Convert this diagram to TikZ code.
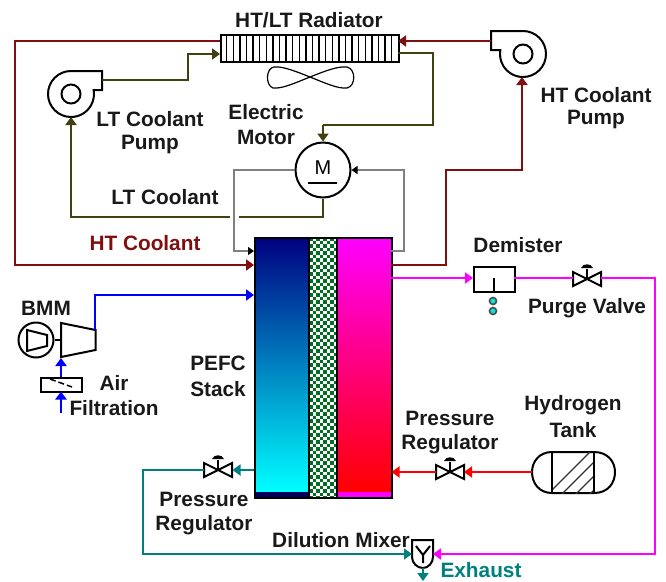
\documentclass[tikz,border=0pt]{standalone}
\usepackage{fontspec}
\setmainfont{Liberation Sans}
\usetikzlibrary{arrows.meta}
\definecolor{htc}{RGB}{128,16,16}
\definecolor{ltc}{RGB}{64,64,16}
\definecolor{tealc}{RGB}{0,128,128}
\definecolor{greenc}{RGB}{0,110,30}
\definecolor{magc}{RGB}{255,0,255}
\definecolor{cyanc}{RGB}{0,255,255}
\definecolor{redc}{RGB}{255,0,0}
\definecolor{bluec}{RGB}{0,0,255}
\definecolor{navyc}{RGB}{0,0,128}
\tikzset{
  x=1pt,y=-1pt,
  lbl/.style={font=\fontsize{20.8}{23}\selectfont\bfseries,inner sep=0pt,text=black!90},
  pipe/.style={line width=2.2pt,-{Triangle[length=8pt,width=11pt]}},
  pipeplain/.style={line width=2.2pt},
  sym/.style={draw=black,line width=2pt},
  thinpipe/.style={draw=black!50,line width=1.2pt,-{Triangle[length=6pt,width=8pt,fill=black,color=black]}},
  box/.style={draw=black,line width=2pt,rectangle,inner sep=0pt,fill=none},
  valve/.pic={
    \draw[sym,fill=white] (-14,-7) -- (14,7) -- (14,-7) -- (-14,7) -- cycle;
    \draw[sym] (0,0) -- (0,-10);
    \fill[black] (-6,-11) .. controls (-4,-16) and (4,-16) .. (6,-11) -- cycle;
  }
}
\begin{document}
\begin{tikzpicture}
\useasboundingbox (0,0) rectangle (666,581);
% stack fills
\shade[top color=navyc,bottom color=cyanc] (254,237) rectangle (309,492);
\fill[navyc!70!black] (254,492) rectangle (309,497);
\shade[top color=magc,bottom color=redc] (337,237) rectangle (391,492);
\fill[magc] (337,492) rectangle (391,497);
\fill[white] (309,237) rectangle (337,497);
\begin{scope}
\clip (309,237) rectangle (337,497);
\foreach \r in {0,...,74}{
  \pgfmathtruncatemacro{\off}{mod(\r,2)}
  \foreach \c in {0,2,4,6,8}{
    \fill[greenc] ({309+(\c+\off)*3.5},{237+\r*3.5}) rectangle +(3.5,3.5);
  }
}
\end{scope}
\node[box,minimum width=137pt,minimum height=260pt,anchor=north west] (stack) at (254,237) {};
\draw[sym] (309,237) -- (309,497) (337,237) -- (337,497);
% radiator
\node[box,minimum width=178pt,minimum height=27pt,anchor=north west] (rad) at (220,34) {};
\foreach \i in {1,...,26}{\draw[black,line width=1.4pt] ({220+\i*6.6},34) -- ({220+\i*6.6},61);}
% fan
\draw[sym,line width=1.2pt] (310,77) .. controls (295,71) and (282,66) .. (274,67) .. controls (266,68) and (265,85) .. (273,88) .. controls (282,89) and (295,83) .. (310,77)
  .. controls (325,71) and (338,66) .. (347,67) .. controls (356,69) and (356,86) .. (347,88) .. controls (338,89) and (325,83) .. (310,77);
% pumps
\coordinate (ltp) at (71,94);
\coordinate (htp) at (523,54);
\draw[sym] (102,71) -- (71,71) arc[start angle=90,end angle=370,radius=23pt] -- (102,90) -- cycle;
\node[circle,sym,minimum size=19pt,inner sep=0pt] (ltpc) at (ltp) {};
\draw[sym] (491,31) -- (523,31) arc[start angle=90,end angle=-190,radius=23pt] -- (491,50) -- cycle;
\node[circle,sym,minimum size=19pt,inner sep=0pt] (htpc) at (htp) {};
% motor
\node[circle,sym,minimum size=55pt,inner sep=0pt] (motor) at (323,170) {};
\node[font=\fontsize{20}{22}\selectfont,inner sep=0pt] (mlabel) at (323,168) {M};
\draw[sym] (308,183) -- (337,183);
% demister
\node[box,minimum width=41pt,minimum height=25pt,anchor=north west] (dem) at (473,266) {};
\draw[sym] (493.5,278) -- (493.5,291);
\node[circle,draw=black!70,line width=1.6pt,fill=cyanc!80!tealc,minimum size=7pt,inner sep=0pt] (d1) at (493,301) {};
\node[circle,draw=black!70,line width=1.6pt,fill=cyanc!80!tealc,minimum size=7pt,inner sep=0pt] (d2) at (493,311) {};
% valves
\pic at (587,279) {valve};
\pic at (218,470) {valve};
\pic at (450,472) {valve};
% BMM
\node[circle,sym,minimum size=35pt,inner sep=0pt] (bmm) at (36,340) {};
\draw[sym] (27,330) -- (47,335) -- (47,346) -- (27,351) -- cycle;
\draw[sym] (61,323) -- (95.5,330) -- (95.5,350) -- (61,357) -- cycle;
\draw[sym,line width=1.2pt] (bmm.east) -- (61,340);
% filter
\node[box,minimum width=41pt,minimum height=14pt,anchor=north west] (filt) at (40,377) {};
\draw[black,line width=1.5pt,dash pattern=on 6pt off 3pt] (50,379) -- (72,387);
% tank
\draw[sym] (552,452) -- (594,452) .. controls (608,452) and (615,462) .. (615,472) .. controls (615,483) and (608,493) .. (594,493) -- (552,493) .. controls (539,493) and (532,483) .. (532,472) .. controls (532,462) and (539,452) .. (552,452) -- cycle;
\begin{scope}
\clip (552,452) rectangle (594,493);
\foreach \k in {0,...,5}{\draw[black!80,line width=1.2pt] ({545+\k*14},497) -- ({545+\k*14+50},447);}
\end{scope}
\draw[sym] (552,452) -- (552,493) (594,452) -- (594,493);
\coordinate (tankW) at (532,472);
% mixer
\draw[sym] (412,540) -- (433,540) -- (433,557) .. controls (433,563) and (428,568) .. (423,568) .. controls (417,568) and (412,563) .. (412,557) -- cycle;
\draw[sym] (423,555) -- (416,546) (423,555) -- (430,546) (423,555) -- (423,563);
\coordinate (mixW) at (412,554);
\coordinate (mixE) at (433,554);
\coordinate (mixS) at (423,568);
\coordinate (exEnd) at (423,581);
% connectors HT
\draw[pipe,htc] (220,41) -- (15,41) -- (15,265) -- (stack.west |- 0,265);
\draw[pipe,htc] (491,41) -- (398,41);
\draw[pipe,htc] (391,265) -- (446,265) -- (446,170) -- (522,170) -- (522,77);
% LT
\draw[pipe,ltc,line width=2pt] (102,80) -- (188,80) -- (188,54) -- (220,54);
\draw[pipeplain,ltc,line width=2pt] (398,53) -- (433,53) -- (433,125) -- (323,125);
\draw[pipe,ltc,line width=2pt] (323,125) -- (motor.north);
\draw[ltc,line width=2pt] (motor.south) -- (323,217) -- (239,217);
\draw[pipe,ltc,line width=2pt] (230,217) -- (71,217) -- (71,117);
% grey
\draw[thinpipe] (motor.west) -- (234,170) -- (234,251) -- (stack.west |- 0,251);
\draw[thinpipe] (391,251) -- (404,251) -- (404,170) -- (motor.east);
% blue
\draw[pipe,bluec] (95,330) -- (95,295) -- (stack.west |- 0,295);
\draw[pipe,bluec] (61,377) -- (61,358);
\draw[pipe,bluec] (61,413) -- (61,391.5);
% magenta
\draw[pipe,magc] (391,278) -- (dem.west |- 0,278);
\draw[pipeplain,magc] (514,278) -- (573,278);
\draw[pipe,magc] (601,278) -- (655,278) -- (655,554) -- (mixE);
% teal
\draw[pipe,tealc,line width=1.8pt] (254,470) -- (232.5,470);
\draw[pipe,tealc,line width=1.8pt] (204,470) -- (143,470) -- (143,554) -- (mixW);
\draw[pipe,tealc,line width=1.9pt] (mixS) -- (exEnd);
% red
\draw[pipe,redc,line width=1.9pt] (tankW) -- (464,472);
\draw[pipe,redc,line width=1.9pt] (436,472) -- (391.5,472);
% labels
\node[lbl] (t1) at (309,20) {HT/LT Radiator};
\node[lbl] (t2) at (150,119) {LT Coolant};
\node[lbl] (t3) at (150,145) {Pump};
\node[lbl] (t4) at (266,112) {Electric};
\node[lbl] (t5) at (266,137) {Motor};
\node[lbl] (t6) at (165,197) {LT Coolant};
\node[lbl,text=htc] (t7) at (145,243) {HT Coolant};
\node[lbl] (t8) at (596,95) {HT Coolant};
\node[lbl] (t9) at (596,120) {Pump};
\node[lbl] (t10) at (518,245) {Demister};
\node[lbl] (t11) at (587,308) {Purge Valve};
\node[lbl] (t12) at (46,308) {BMM};
\node[lbl] (t13) at (114,383) {Air};
\node[lbl] (t14) at (114,408) {Filtration};
\node[lbl] (t15) at (218,363) {PEFC};
\node[lbl] (t16) at (218,389) {Stack};
\node[lbl] (t17) at (450,418) {Pressure};
\node[lbl] (t18) at (450,444) {Regulator};
\node[lbl] (t19) at (573,405) {Hydrogen};
\node[lbl] (t20) at (573,430) {Tank};
\node[lbl] (t21) at (204,499) {Pressure};
\node[lbl] (t22) at (204,525) {Regulator};
\node[lbl] (t23) at (341,540) {Dilution Mixer};
\node[lbl,text=tealc] (t24) at (481,570) {Exhaust};
\end{tikzpicture}
\end{document}
